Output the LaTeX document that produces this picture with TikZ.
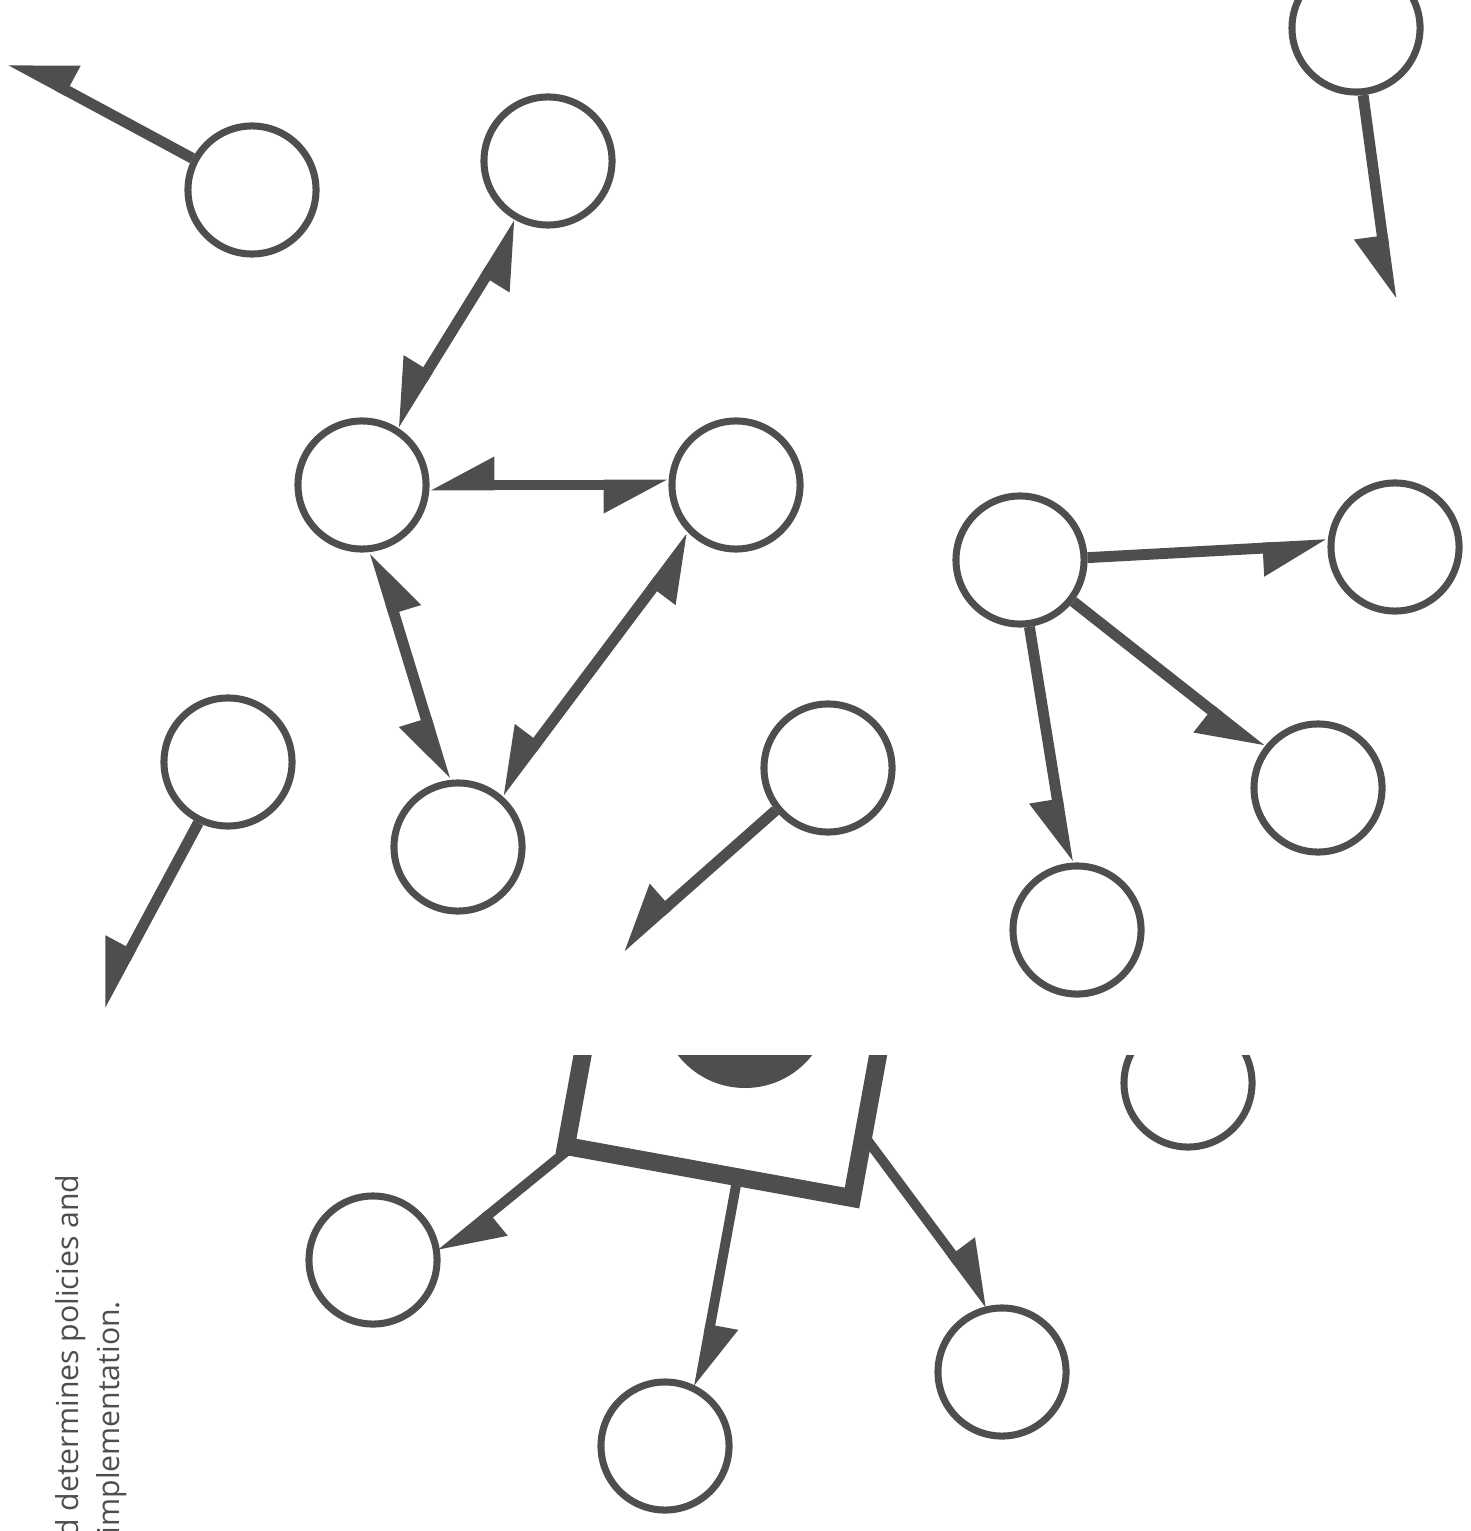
\documentclass[tikz,border=0pt]{standalone}
\usepackage{fontspec}
\setmainfont{Open Sans}
\usetikzlibrary{arrows.meta}
\definecolor{ink}{RGB}{77,78,80}

\begin{document}
\begin{tikzpicture}[x=0.01cm, y=-0.01cm,
    unit/.style={circle, draw=ink, line width=2pt, minimum size=1.28cm, inner sep=0pt},
    hp/.tip={Triangle[harpoon, swap, length=5.4mm, width=5.4mm]},
    hq/.tip={Triangle[harpoon, length=5.4mm, width=5.4mm]},
    link/.style={draw=ink, line width=3.1pt, -hp},
    both/.style={draw=ink, line width=3.1pt, hp-hp},
    sub/.style={draw=ink, line width=2.8pt, -hq},
    note/.style={rotate=90, anchor=base west, inner sep=0pt, text=ink, font=\fontsize{8.6}{10}\selectfont}]
    \useasboundingbox (0,0) rectangle (1470,1531);
    % circles
    \node[unit] (c1) at (252,190) {};
    \node[unit] (c2) at (548,161) {};
    \node[unit] (c3) at (1356,28) {};
    \node[unit] (c4) at (362,485) {};
    \node[unit] (c5) at (736,485) {};
    \node[unit] (c6) at (1020,560) {};
    \node[unit] (c7) at (1395,547) {};
    \node[unit] (c8) at (228,762) {};
    \node[unit] (c9) at (828,768) {};
    \node[unit] (c10) at (458,847) {};
    \node[unit] (c11) at (1318,788) {};
    \node[unit] (c12) at (1077,930) {};
    \node[unit] (c13) at (373,1260) {};
    \node[unit] (c14) at (1002,1372) {};
    \node[unit] (c15) at (665,1446) {};
    % free ends
    \coordinate (e1) at (10,60);
    \coordinate (e3) at (1391,300);
    \coordinate (e8) at (100,1006);
    \coordinate (e9) at (620,948);
    \draw[link] (c1.152) -- (e1);
    \draw[link] (c3.-84) -- (e3);
    \draw[link] (c8.-116) -- (e8);
    \draw[link] (c9.-141) -- (e9);
    % triangle
    \draw[both] (c2.-115) -- (c4.62);
    \draw[both] (c4.east) -- (c5.west);
    \draw[both] (c4.-79) -- (c10.101);
    \draw[both] (c5.-131) -- (c10.53);
    % star
    \draw[link] (c6.2) -- (c7.178);
    \draw[link] (c6.-38) -- (c11.146);
    \draw[link] (c6.-82) -- (c12.98);
    % cut figure
    \begin{scope}
        \clip (0,1055) rectangle (1470,1531);
        \fill[ink] (745,1003) circle[radius=85];
        \draw[ink, line width=5.1pt, miter limit=10] (618,861) -- (566,1146) -- (852,1198) -- (904,913);
        \node[unit] (c16) at (1188,1083) {};
    \end{scope}
    \coordinate (sqL) at (568,1150);
    \coordinate (sqB) at (737,1180);
    \coordinate (sqR) at (865,1137);
    \draw[sub] (sqL) -- (c13.5);
    \draw[sub] (sqB) -- (c15.60);
    \draw[sub] (sqR) -- (c14.100);
    % text
    \node[note] (t1) at (78,1550) {rd determines policies and};
    \node[note] (t2) at (119,1535) {implementation.};
\end{tikzpicture}
\end{document}
